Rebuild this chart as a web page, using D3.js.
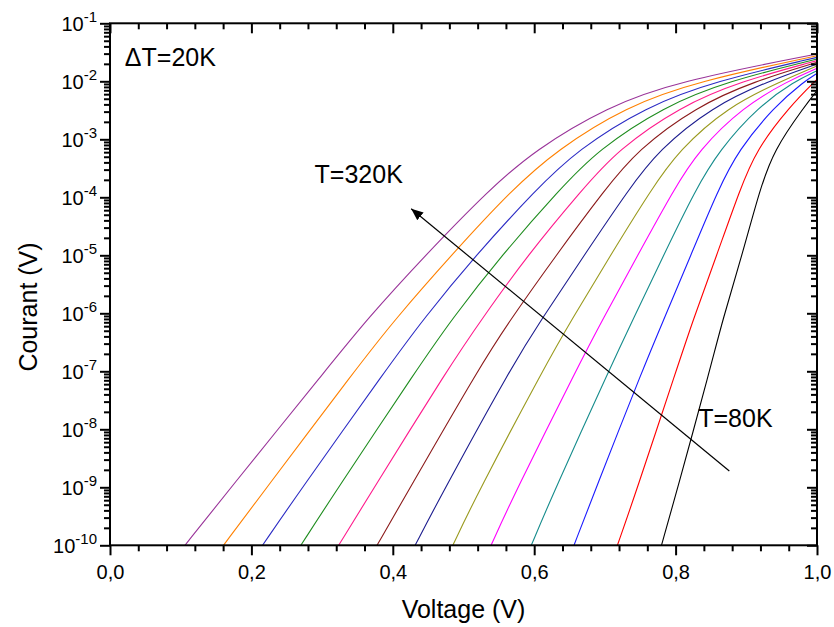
<!DOCTYPE html>
<html>
<head>
<meta charset="utf-8">
<script src="https://cdn.jsdelivr.net/npm/d3@7"></script>
<style>
  body { margin: 0; background: #fff; }
  svg { font-family: "Liberation Sans", Arial, sans-serif; }
</style>
</head>
<body>
<div id="chart"></div>
<script>
// Data: voltage (V) where each curve reaches a given log10(current)
const TEMPS = [320, 300, 280, 260, 240, 220, 200, 180, 160, 140, 120, 100, 80];
const LOG_LEVELS = [-10, -9.133, -6.891, -6.116, -5, -3.874, -3.184, -2.438, -2];

const V_320 = [0.106, 0.1624, 0.3113, 0.3626, 0.446, 0.5359, 0.601, 0.7035, 0.803];
const V_300 = [0.1605, 0.2137, 0.3523, 0.4024, 0.4826, 0.568, 0.632, 0.7295, 0.831];
const V_280 = [0.2158, 0.2644, 0.3953, 0.4422, 0.5173, 0.602, 0.661, 0.758, 0.855];
const V_260 = [0.270, 0.3158, 0.4383, 0.4826, 0.5539, 0.6354, 0.690, 0.783, 0.873];
const V_240 = [0.3234, 0.3671, 0.4814, 0.525, 0.5905, 0.6675, 0.718, 0.806, 0.892];
const V_220 = [0.3777, 0.4185, 0.5244, 0.566, 0.6309, 0.6996, 0.746, 0.829, 0.911];
const V_200 = [0.4316, 0.4685, 0.5693, 0.6097, 0.6707, 0.733, 0.776, 0.852, 0.930];
const V_180 = [0.4849, 0.5186, 0.6161, 0.6527, 0.7079, 0.765, 0.805, 0.874, 0.949];
const V_160 = [0.539, 0.5712, 0.663, 0.6964, 0.7464, 0.7971, 0.833, 0.896, 0.958];
const V_140 = [0.5959, 0.6258, 0.7092, 0.7394, 0.783, 0.8279, 0.862, 0.917, 0.968];
const V_120 = [0.6563, 0.6836, 0.756, 0.783, 0.8215, 0.86, 0.889, 0.9395, 0.982];
const V_100 = [0.7177, 0.7426, 0.8035, 0.8247, 0.8581, 0.8908, 0.914, 0.961, null];
const V_80  = [0.780, 0.8003, 0.8504, 0.8664, 0.894, 0.919, 0.939, 0.982, null];

// log10(current) at V = 1.0, end of each curve
const END_LOG = [-1.529, -1.558, -1.587, -1.616, -1.644, -1.673, -1.702, -1.736, -1.776, -1.816, -1.863, -1.966, -2.162];

const X_TICKS = [0, 0.2, 0.4, 0.6, 0.8, 1.0];
const Y_TICKS = [1e-10, 1e-9, 1e-8, 1e-7, 1e-6, 1e-5, 1e-4, 1e-3, 1e-2, 1e-1];

const VOLTS = [V_320, V_300, V_280, V_260, V_240, V_220, V_200, V_180, V_160, V_140, V_120, V_100, V_80];
const COLORS = ["#993399", "#ff8000", "#2b2bc4", "#1e8c1e", "#ff1a8c", "#8b1a1a", "#1c1c8e",
                "#9a9a1e", "#ff00ff", "#168c8c", "#1a1aff", "#ff0000", "#000000"];

// Set variables
const FRAME_HEIGHT = 627;
const FRAME_WIDTH = 834;
const MARGINS = {left: 110, right: 17, top: 23.3, bottom: 81.7};
const VIS_HEIGHT = FRAME_HEIGHT - MARGINS.top - MARGINS.bottom;
const VIS_WIDTH = FRAME_WIDTH - MARGINS.left - MARGINS.right;

const FRAME = d3.select("#chart")
                .append("svg")
                  .attr("height", FRAME_HEIGHT)
                  .attr("width", FRAME_WIDTH);

FRAME.append("rect")
    .attr("width", FRAME_WIDTH)
    .attr("height", FRAME_HEIGHT)
    .attr("fill", "#fff");

const X_SCALE = d3.scaleLinear()
                  .domain([0, 1])
                  .range([MARGINS.left, MARGINS.left + VIS_WIDTH]);

const Y_SCALE = d3.scaleLog()
                  .domain([1e-10, 1e-1])
                  .range([MARGINS.top + VIS_HEIGHT, MARGINS.top]);

// build curves as [V, I] pairs
const curves = VOLTS.map((vs, i) => {
  const pts = [];
  vs.forEach((v, j) => { if (v !== null) pts.push([v, Math.pow(10, LOG_LEVELS[j])]); });
  pts.push([1.0, Math.pow(10, END_LOG[i])]);
  return {temp: TEMPS[i], color: COLORS[i], pts: pts};
});

const line = d3.line()
               .x((d) => X_SCALE(d[0]))
               .y((d) => Y_SCALE(d[1]))
               .curve(d3.curveBasis);

FRAME.selectAll(".curve")
    .data(curves)
    .enter()
    .append("path")
      .attr("class", "curve")
      .attr("d", (d) => line(d.pts))
      .attr("fill", "none")
      .attr("stroke", (d) => d.color)
      .attr("stroke-width", 1.1);

// minor tick values
const xMinor = d3.range(0, 1.0001, 0.04).filter((v) => Math.abs(v * 5 - Math.round(v * 5)) > 1e-6);
const yMinor = [];
for (let e = -10; e < -1; e++) {
  for (let k = 2; k <= 9; k++) yMinor.push(k * Math.pow(10, e));
}

const BOTTOM = MARGINS.top + VIS_HEIGHT;
const RIGHT = MARGINS.left + VIS_WIDTH;

function styleAxis(g) {
  g.select(".domain").remove();
  g.selectAll("line").attr("stroke", "#000").attr("stroke-width", 2);
}

// bottom axis
FRAME.append("g")
    .attr("transform", "translate(0," + BOTTOM + ")")
    .call(d3.axisBottom(X_SCALE).tickValues(X_TICKS).tickSize(10).tickPadding(10)
            .tickFormat((d) => d3.format(".1f")(d).replace(".", ",")))
    .call(styleAxis)
    .selectAll("text")
      .attr("font-size", "20px")
      .attr("font-family", "Liberation Sans, Arial, sans-serif")
      .attr("fill", "#000");

FRAME.append("g")
    .attr("transform", "translate(0," + BOTTOM + ")")
    .call(d3.axisBottom(X_SCALE).tickValues(xMinor).tickSize(6).tickFormat(""))
    .call(styleAxis);

// top axis, ticks pointing inward
FRAME.append("g")
    .attr("transform", "translate(0," + MARGINS.top + ")")
    .call(d3.axisTop(X_SCALE).tickValues(X_TICKS).tickSizeInner(-10).tickSizeOuter(0).tickFormat(""))
    .call(styleAxis);

FRAME.append("g")
    .attr("transform", "translate(0," + MARGINS.top + ")")
    .call(d3.axisTop(X_SCALE).tickValues(xMinor).tickSizeInner(-6).tickSizeOuter(0).tickFormat(""))
    .call(styleAxis);

// left axis
FRAME.append("g")
    .attr("transform", "translate(" + MARGINS.left + ",0)")
    .call(d3.axisLeft(Y_SCALE).tickValues(Y_TICKS).tickSize(10).tickFormat(""))
    .call(styleAxis);

FRAME.append("g")
    .attr("transform", "translate(" + MARGINS.left + ",0)")
    .call(d3.axisLeft(Y_SCALE).tickValues(yMinor).tickSize(6).tickFormat(""))
    .call(styleAxis);

// right axis, ticks pointing inward
FRAME.append("g")
    .attr("transform", "translate(" + RIGHT + ",0)")
    .call(d3.axisRight(Y_SCALE).tickValues(Y_TICKS).tickSizeInner(-10).tickSizeOuter(0).tickFormat(""))
    .call(styleAxis);

FRAME.append("g")
    .attr("transform", "translate(" + RIGHT + ",0)")
    .call(d3.axisRight(Y_SCALE).tickValues(yMinor).tickSizeInner(-6).tickSizeOuter(0).tickFormat(""))
    .call(styleAxis);

// left tick labels 10^n
const yLabels = FRAME.append("g").selectAll("text")
    .data(Y_TICKS)
    .enter()
    .append("text")
      .attr("x", 97)
      .attr("y", (d) => Y_SCALE(d) + 8)
      .attr("text-anchor", "end")
      .attr("font-size", "20px")
      .attr("fill", "#000");
yLabels.append("tspan").text("10");
yLabels.append("tspan")
    .attr("dy", -9)
    .attr("font-size", "15px")
    .text((d) => Math.round(Math.log10(d)));

// frame
FRAME.append("rect")
    .attr("x", MARGINS.left)
    .attr("y", MARGINS.top)
    .attr("width", VIS_WIDTH)
    .attr("height", VIS_HEIGHT)
    .attr("fill", "none")
    .attr("stroke", "#000")
    .attr("stroke-width", 2);

// axis titles
FRAME.append("text")
    .attr("x", MARGINS.left + VIS_WIDTH / 2)
    .attr("y", 618)
    .attr("text-anchor", "middle")
    .attr("font-size", "25px")
    .text("Voltage (V)");

FRAME.append("text")
    .attr("transform", "translate(37,307) rotate(-90)")
    .attr("text-anchor", "middle")
    .attr("font-size", "25px")
    .text("Courant (V)");

// annotations
const ARROW_FROM = [0.876, 1.91e-9];
const ARROW_TO = [0.426, 6.35e-5];

FRAME.append("defs").append("marker")
    .attr("id", "head")
    .attr("viewBox", "0 0 12 10")
    .attr("refX", 12)
    .attr("refY", 5)
    .attr("markerWidth", 12)
    .attr("markerHeight", 10)
    .attr("markerUnits", "userSpaceOnUse")
    .attr("orient", "auto")
  .append("path")
    .attr("d", "M0,0 L12,5 L0,10 Z")
    .attr("fill", "#000");

FRAME.append("line")
    .attr("x1", X_SCALE(ARROW_FROM[0]))
    .attr("y1", Y_SCALE(ARROW_FROM[1]))
    .attr("x2", X_SCALE(ARROW_TO[0]))
    .attr("y2", Y_SCALE(ARROW_TO[1]))
    .attr("stroke", "#000")
    .attr("stroke-width", 1.2)
    .attr("marker-end", "url(#head)");

FRAME.append("text")
    .attr("x", X_SCALE(0.2894))
    .attr("y", Y_SCALE(Math.pow(10, -3.759)))
    .attr("font-size", "25px")
    .text("T=320K");

FRAME.append("text")
    .attr("x", X_SCALE(0.832))
    .attr("y", Y_SCALE(Math.pow(10, -7.966)))
    .attr("font-size", "25px")
    .text("T=80K");

FRAME.append("text")
    .attr("x", X_SCALE(0.021))
    .attr("y", Y_SCALE(Math.pow(10, -1.736)))
    .attr("font-size", "25px")
    .text("\u0394T=20K");
</script>
</body>
</html>
